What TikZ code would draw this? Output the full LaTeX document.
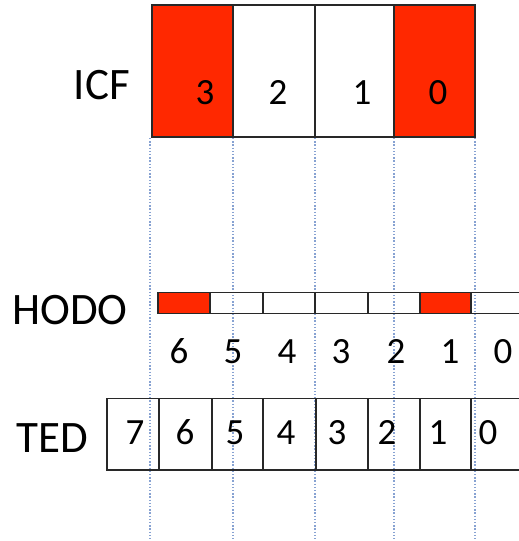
\documentclass[tikz,border=0pt]{standalone}
\usepackage{fontspec}
\setmainfont{Carlito}
\definecolor{cellred}{RGB}{255,40,0}
\definecolor{guide}{RGB}{135,162,210}
\definecolor{edge}{RGB}{40,40,40}
\begin{document}
\begin{tikzpicture}[x=1pt,y=-1pt,
  box/.style={draw=edge,line width=1.2pt},
  redcell/.style={fill=cellred},
  guideline/.style={draw=guide,line width=1.4pt,dash pattern=on 1.4pt off 1.8pt},
  lbl/.style={anchor=base,inner sep=0pt,font=\fontsize{45}{45}\selectfont},
  dig/.style={anchor=base,inner sep=0pt,font=\fontsize{37}{37}\selectfont}]
\useasboundingbox (0,0) rectangle (519,541);
\clip (0,0) rectangle (519,541);
% guide lines
\foreach \x in {150,233,315,394,475}
  \draw[guideline] (\x,138) -- (\x,541);
% ICF
\fill[redcell] (152,5) rectangle (233,137);
\fill[redcell] (394,5) rectangle (475,137);
\draw[box] (152,5) rectangle (475,137);
\foreach \x in {233,315,394} \draw[box] (\x,5) -- (\x,137);
\node[lbl] (icf) at (102,99) {ICF};
\node[dig] (i3) at (205,104) {3};
\node[dig] (i2) at (278,104) {2};
\node[dig] (i1) at (362,104) {1};
\node[dig] (i0) at (438,104) {0};
% HODO
\fill[redcell] (158,292.5) rectangle (210,313.5);
\fill[redcell] (420,292.5) rectangle (471,313.5);
\draw[box] (530,292.5) -- (158,292.5) -- (158,313.5) -- (530,313.5);
\foreach \x in {210,263,315,368,420,471} \draw[box] (\x,292.5) -- (\x,313.5);
\node[lbl] (hodo) at (70,324.5) {HODO};
\foreach \x/\t in {179/6,233/5,287/4,341/3,396/2,450/1,503/0}
  \node[dig] (h\t) at (\x,363.5) {\t};
% TED
\draw[box] (530,398.5) -- (107,398.5) -- (107,470) -- (530,470);
\draw[draw=edge,line width=2.2pt] (159,398.5) -- (159,470);
\foreach \x in {212,263,316,368,420,471} \draw[box] (\x,398.5) -- (\x,470);
\node[lbl] (ted) at (52,452.5) {TED};
\foreach \x/\t in {135/7,185/6,235/5,286/4,337/3,387/2,438/1,488/0}
  \node[dig] (t\t) at (\x,444.5) {\t};
\end{tikzpicture}
\end{document}
